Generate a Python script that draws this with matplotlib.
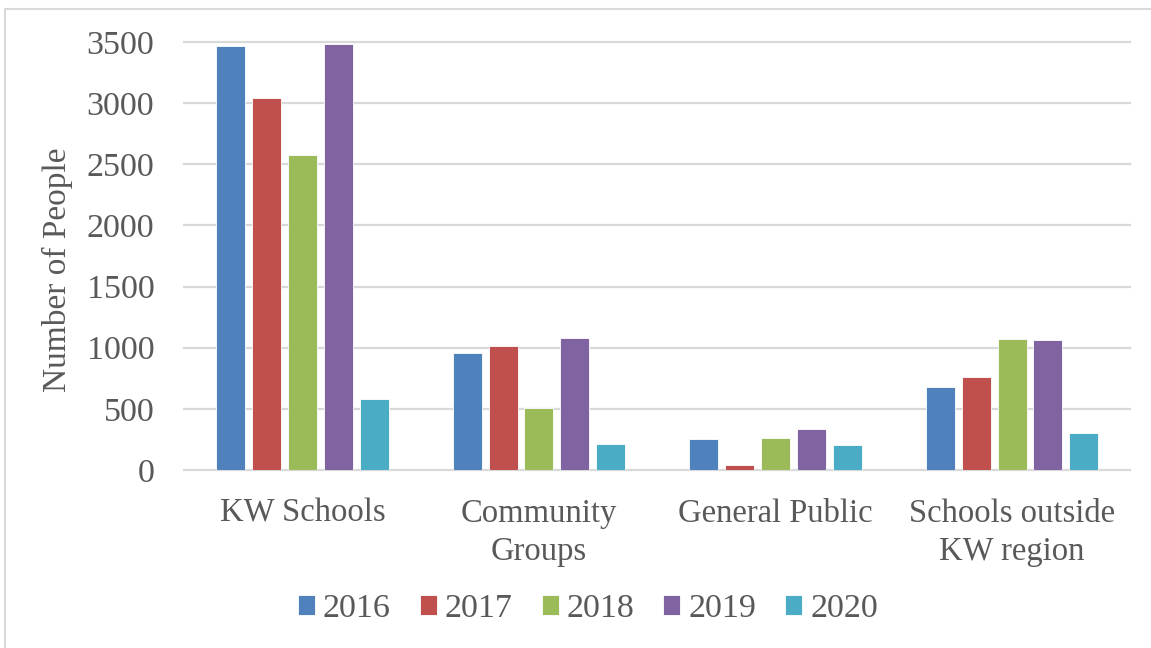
import numpy as np
import matplotlib
matplotlib.use('Agg')
import matplotlib.pyplot as plt
from matplotlib.patches import Rectangle

categories = ['KW Schools', 'Community\nGroups', 'General Public',
              'Schools outside\nKW region']
years = ['2016', '2017', '2018', '2019', '2020']
people_2016 = [3470, 960, 255, 678]
people_2017 = [3040, 1012, 38, 760]
people_2018 = [2574, 510, 262, 1070]
people_2019 = [3486, 1082, 335, 1060]
people_2020 = [580, 212, 207, 305]
y_ticks = [0, 500, 1000, 1500, 2000, 2500, 3000, 3500]

series = [people_2016, people_2017, people_2018, people_2019, people_2020]
colors = ['#4F81BD', '#C0504D', '#9BBB59', '#8064A2', '#4BACC6']
text_color = '#595959'
grid_color = '#D9D9D9'

plt.rcParams['font.family'] = ['Liberation Serif', 'DejaVu Serif']

fig = plt.figure(figsize=(11.51, 6.48), dpi=100)
ax = fig.add_axes([0.160, 0.2747, 0.822, 0.6605])

x = np.arange(len(categories))
bar_w = 0.1226
pitch = 0.152
for i, (vals, col, yr) in enumerate(zip(series, colors, years)):
    ax.bar(x + (i - 2) * pitch, vals, width=bar_w, color=col,
           edgecolor='white', linewidth=0.6, label=yr, zorder=3)

ax.set_xlim(-0.5, len(categories) - 0.5)
ax.set_ylim(0, 3500)
ax.set_yticks(y_ticks)
ax.set_xticks(x)
ax.set_xticklabels(categories, linespacing=1.32)
for t in y_ticks:
    ax.axhline(t, color=grid_color, lw=1.6, zorder=1, clip_on=False)

for side in ['top', 'right', 'left', 'bottom']:
    ax.spines[side].set_visible(False)
ax.tick_params(axis='both', length=0, colors=text_color)
ax.tick_params(axis='y', labelsize=24.5, pad=21.5)
ax.tick_params(axis='x', labelsize=23.5, pad=20.5)

fig.text(57 / 1151, 1 - 270 / 648, 'Number of People', rotation=90,
         ha='center', va='center', fontsize=24, color=text_color)

leg = fig.legend(loc='center', bbox_to_anchor=(588 / 1151, 1 - 609 / 648),
                 ncol=5, frameon=False, fontsize=24.5, handlelength=0.5,
                 handleheight=0.5, handletextpad=0.24, columnspacing=0.85)
for txt in leg.get_texts():
    txt.set_color(text_color)

# light frame around the chart
fig.patches.append(Rectangle((5 / 1151, -0.1), 1.2, 1.1 - 9 / 648,
                             transform=fig.transFigure, fill=False,
                             edgecolor=grid_color, lw=1.5))

fig.savefig('out.png', dpi=100, facecolor='white')
